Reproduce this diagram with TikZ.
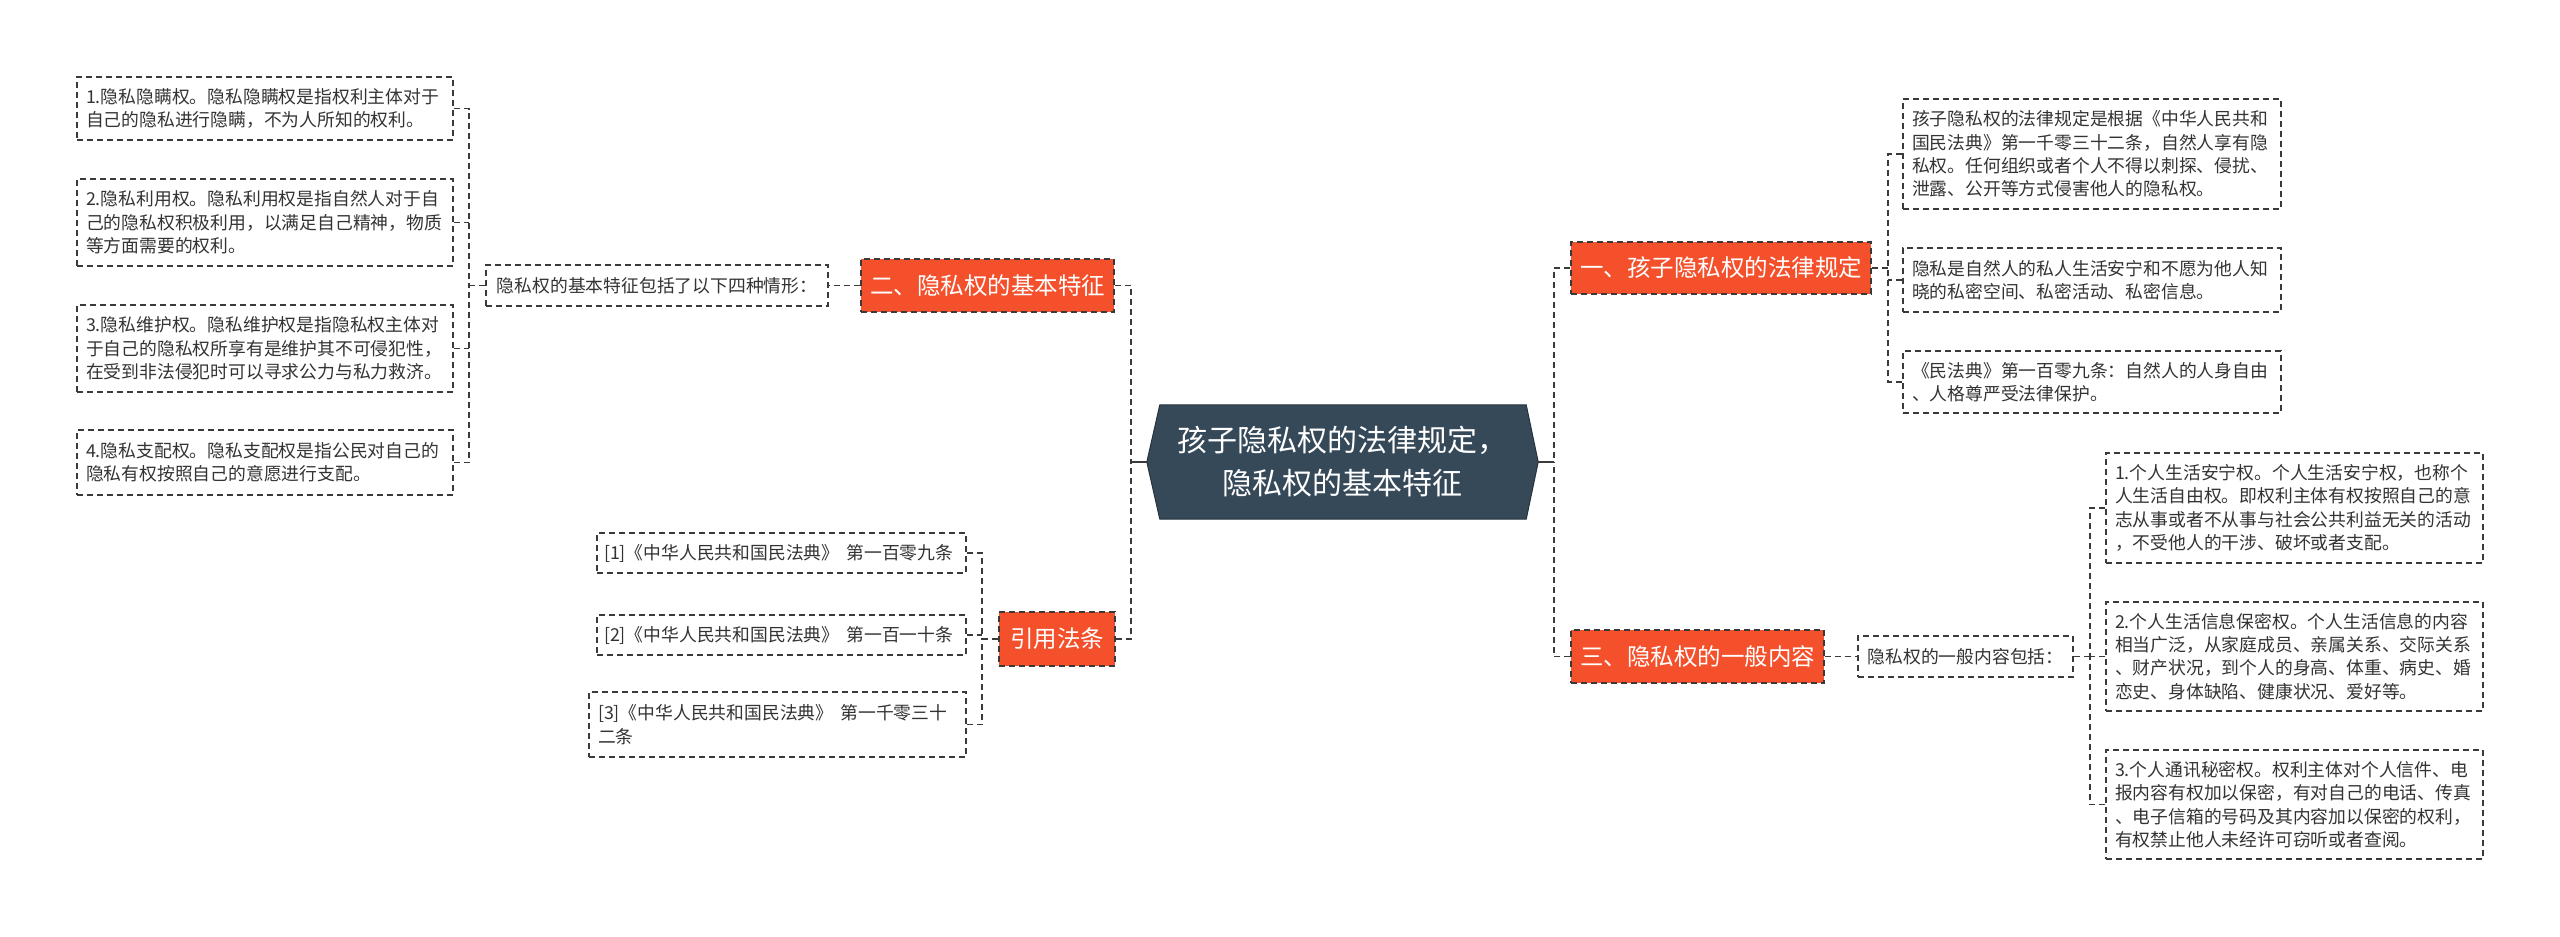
\documentclass[tikz,border=0pt]{standalone}
\usepackage{fontspec}
\setmainfont{Noto Sans CJK SC}
\usetikzlibrary{calc,backgrounds}
\definecolor{orangec}{HTML}{F4502C}
\definecolor{rootc}{HTML}{364959}
\definecolor{linec}{HTML}{3A3A3A}
\definecolor{textc}{HTML}{333333}
\newcommand{\gapsp}{\nobreak\hspace{7pt}\nobreak}
\begin{document}
\begin{tikzpicture}[x=1pt,y=-1pt,
  conn/.style={draw=linec, line width=1.5pt, dash pattern=on 6pt off 4pt},
  stub/.style={draw=linec, line width=2pt},
  detail/.style={draw=linec, line width=1.5pt, dash pattern=on 6pt off 4pt, text=textc,
    font=\fontsize{17.8pt}{23.4pt}\selectfont, inner xsep=9pt, inner ysep=0pt, align=left},
  single/.style={draw=linec, line width=1.5pt, dash pattern=on 6pt off 4pt, text=textc,
    font=\fontsize{17.8pt}{23.4pt}\selectfont, inner sep=0pt},
  head/.style={fill=orangec, draw=linec, line width=1.5pt, dash pattern=on 6pt off 4pt,
    text=white, font=\fontsize{23.5pt}{28pt}\selectfont, inner sep=0pt},
  rootnode/.style={text=white, font=\fontsize{30pt}{43pt}\selectfont, align=center, inner sep=0pt}]
\useasboundingbox (0,0) rectangle (2560,937);

% root
\node[rootnode, minimum width=391pt, minimum height=114pt] (root) at (1342.5,462)
  {孩子隐私权的法律规定，\\隐私权的基本特征};

% headers
\node[head, minimum width=253pt, minimum height=53pt] (b2) at (987.5,285.5) {二、隐私权的基本特征};
\node[head, minimum width=116pt, minimum height=54pt] (b4) at (1057,639) {引用法条};
\node[head, minimum width=300pt, minimum height=52pt] (b1) at (1721,268) {一、孩子隐私权的法律规定};
\node[head, minimum width=253pt, minimum height=53pt] (b3) at (1697.5,656.5) {三、隐私权的一般内容};

% left group
\node[single, minimum width=342pt, minimum height=41pt] (s2) at (657,285.5) {隐私权的基本特征包括了以下四种情形：};
\node[detail, text width=358pt, minimum height=63pt] (l1) at (265,108.5)
  {1.隐私隐瞒权。隐私隐瞒权是指权利主体对于\\自己的隐私进行隐瞒，不为人所知的权利。};
\node[detail, text width=358pt, minimum height=87pt] (l2) at (265,222.5)
  {2.隐私利用权。隐私利用权是指自然人对于自\\己的隐私权积极利用，以满足自己精神，物质\\等方面需要的权利。};
\node[detail, text width=358pt, minimum height=87pt] (l3) at (265,348.5)
  {3.隐私维护权。隐私维护权是指隐私权主体对\\于自己的隐私权所享有是维护其不可侵犯性，\\在受到非法侵犯时可以寻求公力与私力救济。};
\node[detail, text width=358pt, minimum height=65pt] (l4) at (265,462.5)
  {4.隐私支配权。隐私支配权是指公民对自己的\\隐私有权按照自己的意愿进行支配。};

% citations
\node[detail, inner xsep=7pt, text width=355pt, minimum height=40pt] (c1) at (781.5,553)
  {\mbox{[1]《中华人民共和国民法典》\gapsp 第一百零九条}};
\node[detail, inner xsep=7pt, text width=355pt, minimum height=40pt] (c2) at (781.5,635)
  {\mbox{[2]《中华人民共和国民法典》\gapsp 第一百一十条}};
\node[detail, text width=359pt, minimum height=65pt] (c3) at (777.5,724.5)
  {\mbox{[3]《中华人民共和国民法典》\gapsp 第一千零三十}\\二条};

% right upper group
\node[detail, text width=360pt, minimum height=110pt] (A) at (2092,154)
  {孩子隐私权的法律规定是根据《中华人民共和\\国民法典》第一千零三十二条，自然人享有隐\\私权。任何组织或者个人不得以刺探、侵扰、\\泄露、公开等方式侵害他人的隐私权。};
\node[detail, text width=360pt, minimum height=64pt] (B) at (2092,280)
  {隐私是自然人的私人生活安宁和不愿为他人知\\晓的私密空间、私密活动、私密信息。};
\node[detail, text width=360pt, minimum height=62pt] (C) at (2092,382)
  {《民法典》第一百零九条：自然人的人身自由\\、人格尊严受法律保护。};

% right lower group
\node[single, minimum width=215pt, minimum height=41pt] (s3) at (1965.5,656.5) {隐私权的一般内容包括：};
\node[detail, text width=359pt, minimum height=110pt] (r1) at (2294.5,508)
  {1.个人生活安宁权。个人生活安宁权，也称个\\人生活自由权。即权利主体有权按照自己的意\\志从事或者不从事与社会公共利益无关的活动\\，不受他人的干涉、破坏或者支配。};
\node[detail, text width=359pt, minimum height=109pt] (r2) at (2294.5,656.5)
  {2.个人生活信息保密权。个人生活信息的内容\\相当广泛，从家庭成员、亲属关系、交际关系\\、财产状况，到个人的身高、体重、病史、婚\\恋史、身体缺陷、健康状况、爱好等。};
\node[detail, text width=359pt, minimum height=109pt] (r3) at (2294.5,804.5)
  {3.个人通讯秘密权。权利主体对个人信件、电\\报内容有权加以保密，有对自己的电话、传真\\、电子信箱的号码及其内容加以保密的权利，\\有权禁止他人未经许可窃听或者查阅。};

% background + hexagon
\begin{scope}[on background layer]
\fill[white] (0,0) rectangle (2560,937);
\filldraw[fill=rootc, draw=rootc!70!black, line width=1pt]
  (root.west) -- ($(root.north west)+(13,0)$) -- ($(root.north east)+(-12,0)$) -- (root.east)
  -- ($(root.south east)+(-12,0)$) -- ($(root.south west)+(13,0)$) -- cycle;
\end{scope}

% junction coordinates
\coordinate (lj) at (1131,462);
\coordinate (rj) at (1554,462);
\coordinate (s2j) at (469,285.5);
\coordinate (b4j) at (982,639);
\coordinate (b1j) at (1888,268);
\coordinate (s3j) at (2090,656.5);

% main trunks
\draw[stub] (root.west) -- (lj);
\draw[stub] (root.east) -- (rj);
\draw[conn] (b2.east) -| (lj);
\draw[conn] (b4.east) -| (lj);
\draw[conn] (b1.west) -| (rj);
\draw[conn] (b3.west) -| (rj);

% branch 二
\draw[conn] (b2.west) -- (s2.east);
\draw[conn] (s2.west) -- (s2j);
\draw[conn] (l1.east) -| (s2j);
\draw[conn] (l4.east) -| (s2j);
\draw[conn] (l2.east) -- (l2.east -| s2j);
\draw[conn] (l3.east) -- (l3.east -| s2j);

% branch 引用法条
\draw[conn] (b4.west) -- (b4j);
\draw[conn] (c1.east) -| (b4j);
\draw[conn] (c3.east) -| (b4j);
\draw[conn] (c2.east) -- (c2.east -| b4j);

% branch 一
\draw[conn] (b1.east) -- (b1j);
\draw[conn] (A.west) -| (b1j);
\draw[conn] (C.west) -| (b1j);
\draw[conn] (B.west) -- (B.west -| b1j);

% branch 三
\draw[conn] (b3.east) -- (s3.west);
\draw[conn] (s3.east) -- (s3j);
\draw[conn] (r1.west) -| (s3j);
\draw[conn] (r3.west) -| (s3j);
\draw[conn] (r2.west) -- (r2.west -| s3j);
\end{tikzpicture}
\end{document}
